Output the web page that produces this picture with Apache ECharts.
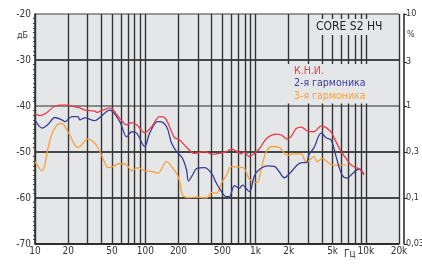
<!DOCTYPE html>
<html>
<head>
<meta charset="utf-8">
<script src="https://cdn.jsdelivr.net/npm/echarts@6/dist/echarts.min.js"></script>
</head>
<body style="margin:0;background:#fff">
<div id="thd" style="width:422px;height:271px"></div>
<script>
var FONT = "'DejaVu Sans Condensed', 'Liberation Sans Narrow', sans-serif";

// К.Н.И.
var redFreq = [10, 10.9, 12.5, 15.2, 17.5, 19.9, 21.6, 23, 25.5, 28.3, 34.9, 36.4, 41, 47.6, 58.7, 67.9, 75.3, 83.6, 98.8, 114.2, 135, 149.7, 173.3, 184.5, 204.7, 241.7, 279.8, 344, 406, 470, 544, 605, 670, 744, 792, 879, 975, 1082, 1279, 1542, 1712, 1939, 2107, 2339, 2595, 2939, 3401, 3936, 4365, 4845, 5378, 5967, 6761, 7502, 8680, 9632];
var redDb = [-41.6, -42.1, -41.6, -40.0, -39.8, -39.8, -40.0, -40.2, -40.4, -40.9, -41.1, -41.4, -40.9, -40.4, -42.7, -44.1, -43.6, -44.1, -45.8, -44.5, -42.3, -42.5, -45.6, -46.9, -47.4, -49.2, -50.3, -49.9, -50.5, -50.3, -49.9, -49.4, -49.8, -50.4, -50.0, -51.0, -50.3, -49.3, -46.9, -46.1, -46.3, -47.2, -46.6, -44.9, -44.6, -45.4, -45.6, -44.3, -44.7, -45.7, -47.8, -49.9, -51.7, -53.0, -53.7, -55.0];

// 2-я гармоника
var blueFreq = [10, 11.6, 13.1, 15.2, 17.5, 18.7, 21.6, 24.5, 25.5, 28.3, 34.9, 38.7, 47.6, 58.7, 67.9, 75.3, 83.6, 98.8, 109.6, 129.5, 135, 156.2, 173.3, 192.3, 217.9, 236.7, 246.8, 268.3, 291.6, 344, 398, 442, 491, 544, 580, 643, 714, 760, 879, 975, 1082, 1279, 1479, 1641, 1821, 2107, 2388, 2650, 2879, 3065, 3401, 3936, 4365, 4845, 5378, 6094, 6761, 7502, 8680, 9632];
var blueDb = [-43.0, -44.8, -44.0, -42.5, -43.0, -43.4, -42.3, -42.3, -43.0, -42.6, -43.2, -42.5, -40.9, -43.4, -46.7, -45.6, -45.9, -48.8, -45.9, -43.4, -43.4, -44.5, -48.1, -49.9, -51.4, -53.9, -56.3, -55.0, -53.6, -53.4, -54.6, -56.8, -58.6, -59.7, -59.7, -57.3, -57.9, -57.2, -58.6, -55.2, -53.8, -53.0, -53.1, -54.3, -55.6, -54.3, -52.8, -52.3, -52.3, -50.5, -49.0, -45.9, -46.9, -47.4, -51.0, -55.0, -55.7, -54.8, -53.7, -54.9];

// 3-я гармоника
var orangeFreq = [10, 11.6, 13.1, 14.5, 16.8, 17.5, 19.9, 23, 24.5, 30.2, 34.9, 38.7, 44.8, 47.6, 58.7, 67.9, 75.3, 86, 98.8, 114.2, 129.5, 156.2, 173.3, 192.3, 204.7, 217.9, 241.7, 297.8, 359, 398, 442, 491, 544, 605, 714, 792, 879, 975, 1038, 1128, 1252, 1419, 1641, 1939, 2243, 2595, 2879, 3065, 3401, 3622, 4018, 4457, 4949, 5967, 6622];
var orangeDb = [-52.1, -54.1, -49.2, -45.6, -43.8, -43.8, -45.6, -48.5, -49.0, -47.2, -48.1, -49.9, -53.2, -53.4, -52.5, -52.8, -54.1, -53.4, -54.1, -54.2, -54.6, -52.1, -53.2, -54.6, -56.4, -59.3, -59.9, -59.8, -60.0, -58.8, -59.0, -56.8, -55.0, -53.2, -53.3, -53.6, -55.9, -56.6, -56.6, -53.6, -49.9, -48.8, -49.0, -50.7, -50.4, -50.4, -52.3, -51.8, -51.0, -52.1, -51.4, -52.1, -52.8, -52.9, -52.8];

var xGridValues = [10, 20, 30, 40, 50, 60, 70, 80, 90, 100, 200, 300, 400, 500, 600, 700, 800, 900, 1000,
  2000, 3000, 4000, 5000, 6000, 7000, 8000, 9000, 10000, 20000];
var xTickValues = [10, 20, 50, 100, 200, 500, 1000, 2000, 5000, 10000, 20000];
var xTickLabels = ['10', '20', '50', '100', '200', '500', '1k', '2k', '5k', '10k', '20k'];
var pctTickDb = [-70, -60, -50, -40, -30.46, -20];
var pctTickLabels = ['0,03', '0,1', '0,3', '1', '3', '10'];

var RED = '#ec3a44', BLUE = '#383b98', ORANGE = '#f6a23c', BG = '#e5e6e8';

function zip(a, b) {
  return a.map(function (v, i) { return [v, b[i]]; });
}

var gridData = xGridValues.map(function (v) {
  var k = xTickValues.indexOf(v);
  return {
    xAxis: v,
    label: { show: k >= 0, formatter: k >= 0 ? xTickLabels[k] : '' }
  };
});

function curve(name, freq, db, color) {
  return {
    name: name,
    type: 'line',
    data: zip(freq, db),
    smooth: 0.35,
    symbol: 'none',
    lineStyle: { color: color, width: 1.3 },
    itemStyle: { color: color },
    z: 3
  };
}

var series = [
  curve('3-я гармоника', orangeFreq, orangeDb, ORANGE),
  curve('2-я гармоника', blueFreq, blueDb, BLUE),
  curve('К.Н.И.', redFreq, redDb, RED)
];
series[0].markLine = {
  silent: true,
  z: 1,
  animation: false,
  symbol: ['none', 'none'],
  lineStyle: { color: '#333', width: 1.4, type: 'solid' },
  label: { position: 'start', distance: 2, fontSize: 10, color: '#333', fontFamily: FONT },
  emphasis: { disabled: true },
  data: gridData
};

var chart = echarts.init(document.getElementById('thd'));
chart.setOption({
  animation: false,
  title: {
    text: 'CORE S2 НЧ',
    left: 313, top: 19,
    padding: [2, 3],
    backgroundColor: BG,
    textStyle: { fontSize: 12, fontWeight: 'normal', color: '#222', fontFamily: FONT }
  },
  legend: {
    orient: 'vertical',
    left: 285, top: 64,
    itemWidth: 0, itemHeight: 0, itemGap: 0,
    padding: [1, 3],
    backgroundColor: BG,
    selectedMode: false,
    textStyle: { fontSize: 10.5, lineHeight: 12.5, fontFamily: FONT },
    data: [
      { name: 'К.Н.И.', textStyle: { color: RED } },
      { name: '2-я гармоника', textStyle: { color: BLUE } },
      { name: '3-я гармоника', textStyle: { color: ORANGE } }
    ]
  },
  grid: {
    left: 35, right: 23, top: 14, bottom: 27,
    outerBoundsMode: 'none',
    show: true, backgroundColor: BG, borderWidth: 0
  },
  xAxis: {
    type: 'log', logBase: 10, min: 10, max: 20000,
    axisLine: { show: true, lineStyle: { color: '#222', width: 1.5 } },
    axisTick: { show: false },
    axisLabel: { show: false },
    splitLine: { show: false }
  },
  yAxis: [{
    type: 'value', min: -70, max: -20, interval: 10,
    axisLine: { show: true, lineStyle: { color: '#222', width: 1.5 } },
    axisTick: { show: false },
    minorTick: { show: true, splitNumber: 10, length: 2, lineStyle: { color: '#444' } },
    axisLabel: { fontSize: 10, color: '#333', margin: 4, fontFamily: FONT },
    splitLine: { show: true, lineStyle: { color: ['#222', '#111', '#111', '#6a6a6a', '#111', '#7a7a7a'], width: 1.5 } }
  }, {
    type: 'value', position: 'right', offset: 5, min: -70, max: -20,
    axisLine: { show: true, lineStyle: { color: '#222', width: 1.5 } },
    axisTick: { show: true, length: 3, customValues: pctTickDb, lineStyle: { color: '#222' } },
    axisLabel: {
      customValues: pctTickDb, fontSize: 9, color: '#333', margin: 2, fontFamily: FONT,
      formatter: function (v) {
        var best = 0;
        pctTickDb.forEach(function (d, i) {
          if (Math.abs(d - v) < Math.abs(pctTickDb[best] - v)) best = i;
        });
        return pctTickLabels[best];
      }
    },
    splitLine: { show: false }
  }],
  graphic: [
    { type: 'text', left: 17, top: 31, style: { text: 'дБ', fontSize: 9, fill: '#333', fontFamily: FONT } },
    { type: 'text', left: 407, top: 30, style: { text: '%', fontSize: 9, fill: '#333', fontFamily: FONT } },
    { type: 'text', left: 344, top: 249, style: { text: 'Гц', fontSize: 10, fill: '#333', fontFamily: FONT } }
  ],
  series: series
});
</script>
</body>
</html>
